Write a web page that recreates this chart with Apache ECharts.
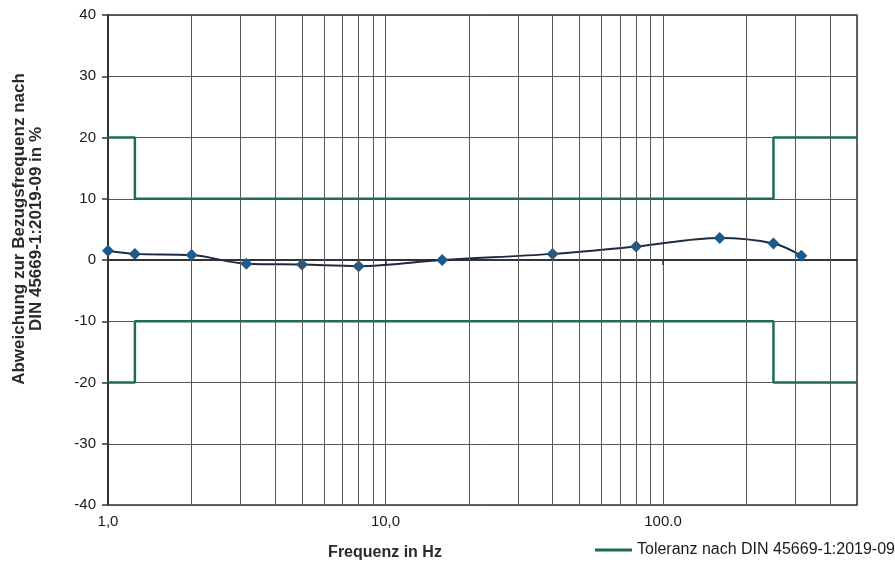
<!DOCTYPE html>
<html>
<head>
<meta charset="utf-8">
<script src="https://cdn.jsdelivr.net/npm/echarts@6/dist/echarts.min.js"></script>
<style>html,body{margin:0;padding:0;background:#fff}#c{width:895px;height:566px}</style>
</head>
<body>
<div id="c"></div>
<script>
// Measured deviation
var freq = [1, 1.25, 2, 3.15, 5, 8, 16, 40, 80, 160, 250, 315];
var dev  = [1.5, 1.0, 0.8, -0.6, -0.75, -1.0, 0.0, 1.0, 2.2, 3.6, 2.7, 0.7];
// Tolerance (DIN 45669-1:2019-09), step corners
var tolFreq  = [1, 1.25, 1.25, 250, 250, 500];
var tolUpper = [20, 20, 10, 10, 20, 20];
var tolLower = [-20, -20, -10, -10, -20, -20];
// Axes
var xMin = 1, xMax = 500;
var yMin = -40, yMax = 40, yStep = 10;
var xTickLabels = {1: '1,0', 10: '10,0', 100: '100.0'};
var minorGrid = [2,3,4,5,6,7,8,9,20,30,40,50,60,70,80,90,200,300,400];
var tolName = 'Toleranz nach DIN 45669-1:2019-09';
var yName = 'Abweichung zur Bezugsfrequenz nach\nDIN 45669-1:2019-09 in %';
var xName = 'Frequenz in Hz';

function pairs(xs, ys){ return xs.map(function(x,i){return [x, ys[i]];}); }

var chart = echarts.init(document.getElementById('c'));
var font = 'Liberation Sans, Arial, sans-serif';
chart.setOption({
  animation: false,
  textStyle: {fontFamily: font},
  grid: {left: 108, top: 15, width: 749, height: 490, show: true, borderColor: '#333', borderWidth: 1.5,
    backgroundColor: 'transparent', containLabel: false, outerBoundsMode: 'none'},
  xAxis: {
    type: 'log', logBase: 10, min: xMin, max: xMax,
    axisLine: {show: true, lineStyle: {color: '#333', width: 2}},
    axisTick: {show: true, length: 5, lineStyle: {color: '#333', width: 1.5}},
    splitLine: {show: true, lineStyle: {color: '#555', width: 1}},
    axisLabel: {color: '#1a1a1a', fontSize: 15, margin: 9, showMaxLabel: false,
      formatter: function(v){ return xTickLabels[Math.round(v)] || ''; }}
  },
  yAxis: {
    type: 'value', min: yMin, max: yMax, interval: yStep,
    axisLine: {show: true, lineStyle: {color: '#333', width: 2}},
    axisTick: {show: true, length: 6, lineStyle: {color: '#333', width: 1.5}},
    splitLine: {show: true, lineStyle: {color: '#555', width: 1}},
    axisLabel: {color: '#1a1a1a', fontSize: 15, margin: 12}
  },
  legend: {
    data: [tolName], left: 595, top: 542, icon: 'rect', itemWidth: 37, itemHeight: 3,
    itemGap: 3, textStyle: {fontSize: 16, color: '#1a1a1a', fontFamily: font}, padding: 0
  },
  graphic: [{
    type: 'text', x: 385, y: 545,
    style: {text: xName, font: 'bold 16px ' + font, fill: '#2a2a2a', textAlign: 'center'}
  }, {
    type: 'text', x: 28, y: 229, rotation: Math.PI / 2,
    style: {text: yName, font: 'bold 17px ' + font, fill: '#2a2a2a', lineHeight: 17,
      textAlign: 'center', textVerticalAlign: 'middle'}
  }],
  series: [
    {
      name: 'grid', type: 'line', data: [], z: 1, silent: true,
      markLine: {silent: true, symbol: 'none', label: {show: false},
        lineStyle: {color: '#555', width: 1, type: 'solid'},
        data: minorGrid.map(function(v){ return {xAxis: v}; })}
    },
    {
      name: tolName, type: 'line', data: pairs(tolFreq, tolUpper), z: 3,
      symbol: 'none', lineStyle: {color: '#1f6b55', width: 2.5}, itemStyle: {color: '#1f6b55'}
    },
    {
      name: tolName, type: 'line', data: pairs(tolFreq, tolLower), z: 3,
      symbol: 'none', lineStyle: {color: '#1f6b55', width: 2.5}, itemStyle: {color: '#1f6b55'}
    },
    {
      name: 'Abweichung', type: 'line', data: pairs(freq, dev), z: 4,
      smooth: 0.35, symbol: 'diamond', symbolSize: 12, showAllSymbol: true,
      lineStyle: {color: '#1c2b3f', width: 2}, itemStyle: {color: '#1d5a8c'}
    }
  ]
});
</script>
</body>
</html>
